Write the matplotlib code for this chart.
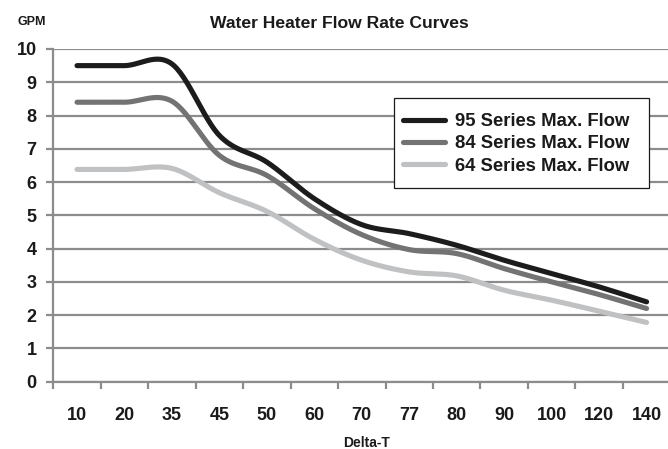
import matplotlib
matplotlib.use("Agg")
import matplotlib.pyplot as plt
from matplotlib.patches import Rectangle
import numpy as np

# data
delta_t = ["10", "20", "35", "45", "50", "60", "70", "77", "80", "90", "100", "120", "140"]
flow_95 = [9.5, 9.5, 9.55, 7.4, 6.6, 5.5, 4.72, 4.45, 4.1, 3.65, 3.25, 2.85, 2.4]
flow_84 = [8.4, 8.4, 8.43, 6.8, 6.2, 5.2, 4.42, 3.97, 3.85, 3.4, 3.0, 2.62, 2.2]
flow_64 = [6.38, 6.38, 6.41, 5.68, 5.12, 4.28, 3.65, 3.3, 3.18, 2.75, 2.45, 2.12, 1.78]

series = [("95 Series Max. Flow", flow_95, "#1c1c1c"),
          ("84 Series Max. Flow", flow_84, "#737373"),
          ("64 Series Max. Flow", flow_64, "#c0c1c3")]

plt.rcParams["font.family"] = ["Liberation Sans", "DejaVu Sans"]
INK = "#1a1a1a"
GRID = "#8c8c8c"
W, H = 668, 449


def smooth(xs, ys, n=30):
    # excel-style smoothed line (catmull-rom as cubic bezier)
    p = np.column_stack([xs, ys]).astype(float)
    p = np.vstack([p[0], p, p[-1]])
    out = []
    t = np.linspace(0, 1, n)[:, None]
    for i in range(1, len(p) - 2):
        p0, p3 = p[i], p[i + 1]
        c1 = p0 + (p[i + 1] - p[i - 1]) / 6
        c2 = p3 - (p[i + 2] - p[i]) / 6
        seg = ((1 - t) ** 3) * p0 + 3 * ((1 - t) ** 2) * t * c1 + 3 * (1 - t) * t ** 2 * c2 + t ** 3 * p3
        out.append(seg if i == 1 else seg[1:])
    out = np.vstack(out)
    return out[:, 0], out[:, 1]


fig = plt.figure(figsize=(W / 100, H / 100), dpi=100)
ax = fig.add_axes([53.3 / W, 1 - 381.7 / H, 617 / W, 332.7 / H])

x = np.arange(len(delta_t))
for name, vals, col in series:
    sx, sy = smooth(x, vals)
    ax.plot(sx, sy, color=col, lw=3.7, solid_capstyle="round", label=name, zorder=3)

ax.set_xlim(-0.5, len(delta_t) - 0.5)
ax.set_ylim(0, 10)
ax.set_yticks(range(0, 11))
ax.yaxis.grid(True, color=GRID, lw=1.6)
ax.set_axisbelow(True)
for s in ["top", "right"]:
    ax.spines[s].set_visible(False)
for s in ["left", "bottom"]:
    ax.spines[s].set_color(GRID)
    ax.spines[s].set_linewidth(1.6)

# ticks on category boundaries, labels on centres
ax.set_xticks(np.arange(-0.5, len(delta_t) - 1, 1))
ax.set_xticklabels([])
ax.set_xticks(x, minor=True)
ax.set_xticklabels(delta_t, minor=True, fontsize=13, fontweight="bold", color=INK)
ax.tick_params(axis="x", which="major", length=5, width=1.6, color=GRID, direction="out")
ax.tick_params(axis="x", which="minor", length=0, pad=18)
ax.tick_params(axis="y", length=5, width=1.6, color=GRID, pad=7)
for lab in ax.get_yticklabels():
    lab.set_fontsize(13)
    lab.set_fontweight("bold")
    lab.set_color(INK)

fig.text(339 / W, 1 - 27.7 / H, "Water Heater Flow Rate Curves", ha="center", va="baseline",
         fontsize=12.6, fontweight="bold", color=INK)
fig.text(31.7 / W, 1 - 25 / H, "GPM", ha="center", va="baseline", fontsize=9,
         fontweight="bold", color=INK)
fig.text(367 / W, 1 - 447 / H, "Delta-T", ha="center", va="baseline", fontsize=10,
         fontweight="bold", color=INK)

# legend box drawn separately so the padding can match the reference
ax.add_patch(Rectangle((394 / W, 1 - 188.3 / H), 255.3 / W, 90.6 / H, transform=fig.transFigure,
                       facecolor="white", edgecolor=INK, lw=0.9, zorder=4, clip_on=False))
leg = ax.legend(loc="upper left", bbox_to_anchor=(403.3 / W, 1 - 113 / H),
                bbox_transform=fig.transFigure, borderaxespad=0, borderpad=0,
                frameon=False, prop={"size": 13.3, "weight": "bold"}, handlelength=2.25,
                handletextpad=0.55, labelspacing=0.29)
leg.set_zorder(5)
for t in leg.get_texts():
    t.set_color(INK)

fig.savefig("out.png", dpi=100)
